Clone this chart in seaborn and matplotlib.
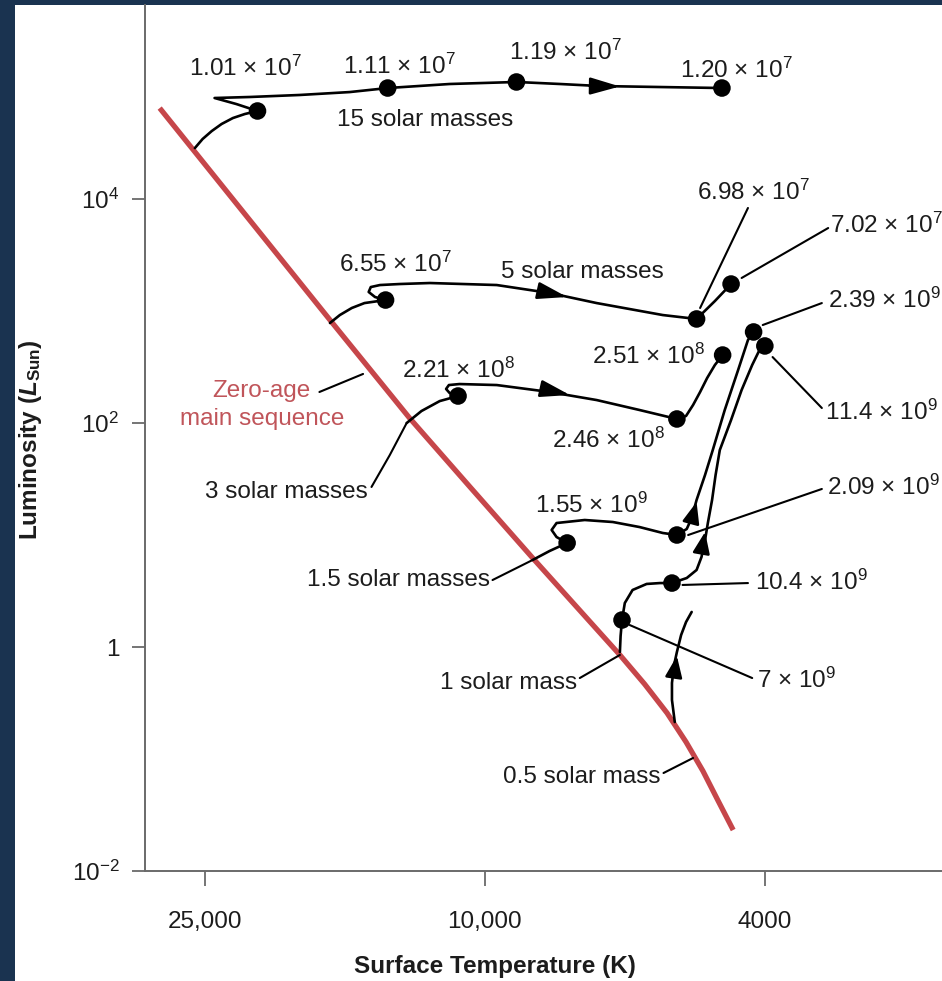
import numpy as np
import pandas as pd
import matplotlib
matplotlib.use("Agg")
import matplotlib.pyplot as plt
import seaborn as sns
from matplotlib.patches import Rectangle
from matplotlib.ticker import FixedLocator, FixedFormatter, NullLocator

# all values are log10(T / K) and log10(L / Lsun)
zams_logT = [4.462, 4.341, 4.220, 4.107, 4.021, 3.932, 3.808, 3.773, 3.741, 3.714, 3.690,
             3.669, 3.647]
zams_logL = [4.812, 3.866, 2.920, 2.045, 1.429, 0.795, -0.071, -0.330, -0.589, -0.848,
             -1.107, -1.366, -1.634]

m15_logT = [4.412, 4.401, 4.388, 4.374, 4.358, 4.341, 4.323, 4.353, 4.384, 4.334, 4.263,
            4.192, 4.138, 4.050, 3.955, 3.893, 3.837, 3.751, 3.663]
m15_logL = [4.455, 4.536, 4.607, 4.670, 4.723, 4.759, 4.786, 4.848, 4.902, 4.911, 4.929,
            4.955, 4.991, 5.027, 5.045, 5.027, 5.009, 5.000, 4.991]
m15_dots = [6, 12, 14, 18]

m5_logT = [4.220, 4.206, 4.189, 4.171, 4.141, 4.156, 4.165, 4.162, 4.149, 4.121, 4.078,
           3.983, 3.908, 3.841, 3.747, 3.699, 3.673, 3.650]
m5_logL = [2.893, 2.964, 3.027, 3.071, 3.098, 3.125, 3.170, 3.214, 3.232, 3.241, 3.250,
           3.232, 3.161, 3.071, 2.964, 2.929, 3.089, 3.241]
m5_dots = [4, 15, 17]

m3_logT = [4.111, 4.090, 4.064, 4.038, 4.050, 4.055, 4.051, 4.036, 3.983, 3.908, 3.841,
           3.780, 3.727, 3.714, 3.704, 3.694, 3.684, 3.673, 3.662]
m3_logL = [2.000, 2.107, 2.196, 2.241, 2.268, 2.304, 2.339, 2.348, 2.339, 2.277, 2.205,
           2.116, 2.036, 2.063, 2.161, 2.277, 2.402, 2.518, 2.607]
m3_dots = [3, 12, 18]

m1p5_logT = [3.932, 3.908, 3.883, 3.898, 3.905, 3.898, 3.858, 3.818, 3.780, 3.747, 3.727,
             3.713, 3.706, 3.699, 3.687, 3.676, 3.659, 3.640, 3.626, 3.618]
m1p5_logL = [0.777, 0.857, 0.929, 0.982, 1.045, 1.107, 1.134, 1.116, 1.071, 1.018, 1.000,
             1.054, 1.152, 1.313, 1.536, 1.759, 2.116, 2.473, 2.741, 2.813]
m1p5_dots = [2, 10, 19]

m1_logT = [3.808, 3.807, 3.805, 3.801, 3.790, 3.770, 3.751, 3.734, 3.713, 3.699, 3.692,
           3.687, 3.683, 3.677, 3.672, 3.666, 3.650, 3.635, 3.620, 3.611, 3.602]
m1_logL = [-0.045, 0.098, 0.241, 0.393, 0.509, 0.563, 0.571, 0.571, 0.616, 0.688, 0.804,
           0.955, 1.107, 1.313, 1.536, 1.759, 2.027, 2.295, 2.518, 2.634, 2.688]
m1_dots = [2, 7, 20]

m0p5_logT = [3.730, 3.734, 3.734, 3.731, 3.727, 3.721, 3.714, 3.706]
m0p5_logL = [-0.670, -0.473, -0.321, -0.161, -0.045, 0.107, 0.223, 0.313]
m0p5_dots = []

tracks = {
    "15": (m15_logT, m15_logL, m15_dots),
    "5": (m5_logT, m5_logL, m5_dots),
    "3": (m3_logT, m3_logL, m3_dots),
    "1.5": (m1p5_logT, m1p5_logL, m1p5_dots),
    "1": (m1_logT, m1_logL, m1_dots),
    "0.5": (m0p5_logT, m0p5_logL, m0p5_dots),
}

# direction arrows: tail logT, tail logL, head logT, head logL, kind
arrows = [
    (3.851, 5.009, 3.808, 5.005, "h"),
    (3.922, 3.179, 3.883, 3.125, "h"),
    (3.918, 2.304, 3.879, 2.250, "h"),
    (3.706, 1.134, 3.699, 1.295, "v"),
    (3.692, 0.848, 3.687, 1.027, "v"),
    (3.731, -0.250, 3.727, -0.080, "v"),
]

# labels: text, logT, logL, horizontal alignment
labels = [
    ("1.01 × $10^{7}$", 4.341, 5.170, "center"),
    ("1.11 × $10^{7}$", 4.121, 5.188, "center"),
    ("1.19 × $10^{7}$", 3.886, 5.313, "center"),
    ("1.20 × $10^{7}$", 3.643, 5.152, "center"),
    ("15 solar masses", 4.085, 4.705, "center"),
    ("6.55 × $10^{7}$", 4.127, 3.420, "center"),
    ("5 solar masses", 3.862, 3.348, "center"),
    ("6.98 × $10^{7}$", 3.618, 4.063, "center"),
    ("7.02 × $10^{7}$", 3.510, 3.768, "left"),
    ("2.21 × $10^{8}$", 4.037, 2.473, "center"),
    ("3 solar masses", 4.166, 1.384, "right"),
    ("2.51 × $10^{8}$", 3.767, 2.598, "center"),
    ("2.46 × $10^{8}$", 3.824, 1.848, "center"),
    ("1.55 × $10^{9}$", 3.848, 1.268, "center"),
    ("1.5 solar masses", 3.993, 0.598, "right"),
    ("2.39 × $10^{9}$", 3.512, 3.098, "left"),
    ("2.09 × $10^{9}$", 3.514, 1.429, "left"),
    ("10.4 × $10^{9}$", 3.616, 0.580, "left"),
    ("11.4 × $10^{9}$", 3.517, 2.098, "left"),
    ("7 × $10^{9}$", 3.613, -0.295, "left"),
    ("1 solar mass", 3.869, -0.321, "right"),
    ("0.5 solar mass", 3.750, -1.161, "right"),
]
zams_label = ("Zero-age\nmain sequence", 4.317, 2.160)

# leader lines: list of (logT, logL) points
leaders = [
    [(3.626, 3.920), (3.694, 3.027)],
    [(3.512, 3.741), (3.635, 3.295)],
    [(3.521, 3.071), (3.605, 2.875)],
    [(3.521, 2.134), (3.591, 2.589)],
    [(3.521, 1.411), (3.711, 1.000)],
    [(3.626, 0.571), (3.719, 0.554)],
    [(3.620, -0.277), (3.794, 0.196)],
    [(3.865, -0.277), (3.808, -0.071)],
    [(3.746, -1.125), (3.704, -0.991)],
    [(3.989, 0.598), (3.932, 0.777)],
    [(4.161, 1.429), (4.135, 1.714), (4.111, 2.000)],
    [(4.235, 2.277), (4.173, 2.438)],
]

temp_ticks = [25000, 10000, 4000]
temp_tick_labels = ["25,000", "10,000", "4000"]
lum_ticks = [1e4, 1e2, 1, 1e-2]
lum_tick_labels = ["$10^{4}$", "$10^{2}$", "1", "$10^{-2}$"]

sns.set_theme(style="ticks")
plt.rcParams["font.family"] = ["Liberation Sans", "DejaVu Sans"]
plt.rcParams["mathtext.fontset"] = "custom"
plt.rcParams["mathtext.rm"] = "Liberation Sans"
plt.rcParams["mathtext.it"] = "Liberation Sans:italic"
plt.rcParams["mathtext.bf"] = "Liberation Sans:bold"
plt.rcParams["mathtext.bfit"] = "Liberation Sans:italic:bold"

ink = "#1c1c1c"
red = "#c6464a"
fs = 17.5

fig = plt.figure(figsize=(9.42, 9.81), dpi=100, facecolor="#1a3350")
fig.add_artist(Rectangle((15 / 942, 0), 1, 976 / 981, transform=fig.transFigure,
                         facecolor="white", edgecolor="none", zorder=-5))
ax = fig.add_axes([145 / 942, 110 / 981, 797 / 942, 866 / 981])
ax.set_facecolor("white")
ax.set_xscale("log")
ax.set_yscale("log")

rows = []
for name, (lt, ll, dots) in tracks.items():
    for i, (t, l) in enumerate(zip(lt, ll)):
        rows.append({"track": name, "i": i, "T": 10 ** t, "L": 10 ** l, "dot": i in dots})
df = pd.DataFrame(rows)

zams = pd.DataFrame({"T": 10 ** np.array(zams_logT), "L": 10 ** np.array(zams_logL)})
sns.lineplot(data=zams, x="T", y="L", sort=False, estimator=None, color=red,
             linewidth=3.8, solid_capstyle="butt", solid_joinstyle="round", ax=ax, zorder=2)

sns.lineplot(data=df, x="T", y="L", units="track", estimator=None, sort=False,
             color="black", linewidth=1.9, solid_joinstyle="round", ax=ax, zorder=3)
sns.scatterplot(data=df[df["dot"]], x="T", y="L", s=160, color="black",
                edgecolor="none", ax=ax, zorder=5, legend=False)

for pts in leaders:
    xs = [10 ** p[0] for p in pts]
    ys = [10 ** p[1] for p in pts]
    ax.plot(xs, ys, color="black", lw=1.5, zorder=3)

for t0, l0, t1, l1, kind in arrows:
    hl = 0.9 if kind == "h" else 0.65
    ax.annotate("", xy=(10 ** t1, 10 ** l1), xytext=(10 ** t0, 10 ** l0),
                arrowprops=dict(arrowstyle=f"-|>,head_length={hl},head_width=0.26",
                                mutation_scale=20, color="black", lw=1.9,
                                shrinkA=0, shrinkB=0), zorder=4)

for txt, t, l, ha in labels:
    ax.text(10 ** t, 10 ** l, txt, ha=ha, va="center", fontsize=fs, color=ink, zorder=6)
ax.text(10 ** zams_label[1], 10 ** zams_label[2], zams_label[0], ha="center", va="center",
        multialignment="center", fontsize=fs, color="#c0555a", linespacing=1.35, zorder=6)

ax.set_xlim(30400, 2240)
ax.set_ylim(1e-2, 5.4e5)
ax.xaxis.set_major_locator(FixedLocator(temp_ticks))
ax.xaxis.set_major_formatter(FixedFormatter(temp_tick_labels))
ax.xaxis.set_minor_locator(NullLocator())
ax.yaxis.set_major_locator(FixedLocator(lum_ticks))
ax.yaxis.set_major_formatter(FixedFormatter(lum_tick_labels))
ax.yaxis.set_minor_locator(NullLocator())

for side in ["top", "right"]:
    ax.spines[side].set_visible(False)
for side in ["left", "bottom"]:
    ax.spines[side].set_color("#6a6a6a")
    ax.spines[side].set_linewidth(1.4)
ax.tick_params(axis="y", length=9.5, width=1.3, color="#6a6a6a", pad=9,
               labelsize=fs, labelcolor=ink)
ax.tick_params(axis="x", length=11, width=1.3, color="#6a6a6a", pad=18,
               labelsize=fs, labelcolor=ink)

ax.set_xlabel("Surface Temperature (K)", fontsize=fs, fontweight="bold", color=ink)
ax.set_ylabel("Luminosity ($\\mathbfit{L}_{\\mathbf{Sun}}$)", fontsize=fs,
              fontweight="bold", color=ink)
ax.xaxis.label.set_va("center")
ax.yaxis.label.set_va("center")
ax.xaxis.set_label_coords((495 - 145) / 797, (871 - 967) / 866)
ax.yaxis.set_label_coords((31 - 145) / 797, (871 - 440) / 866)

fig.savefig("out.png", dpi=100, facecolor=fig.get_facecolor())
